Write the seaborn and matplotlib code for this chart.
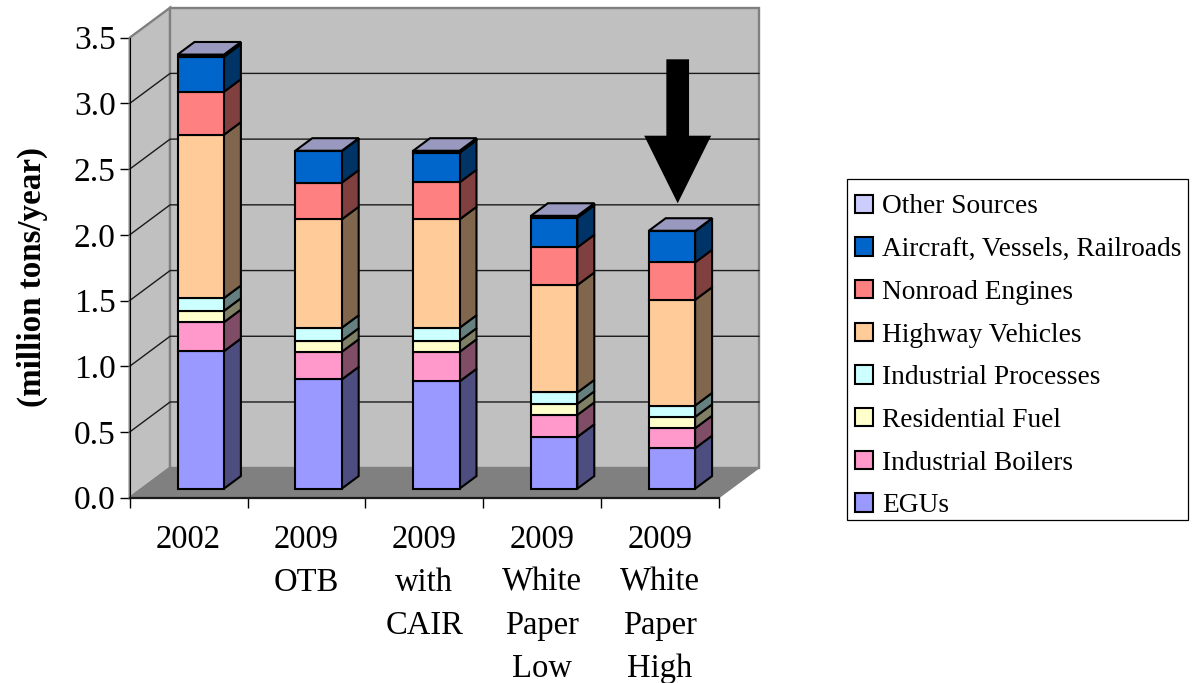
import matplotlib
matplotlib.use("Agg")
import matplotlib.pyplot as plt
import numpy as np
import seaborn as sns
from matplotlib.patches import FancyArrow, Polygon, Rectangle
from matplotlib.transforms import Affine2D, IdentityTransform

categories = ["2002", "2009\nOTB", "2009\nwith\nCAIR", "2009\nWhite\nPaper\nLow", "2009\nWhite\nPaper\nHigh"]
egus = [1.046, 0.831, 0.816, 0.394, 0.308]
industrial_boilers = [0.221, 0.210, 0.225, 0.167, 0.152]
residential_fuel = [0.086, 0.084, 0.084, 0.084, 0.086]
industrial_processes = [0.097, 0.099, 0.099, 0.087, 0.087]
highway_vehicles = [1.243, 0.825, 0.825, 0.817, 0.804]
nonroad_engines = [0.327, 0.279, 0.282, 0.287, 0.285]
aircraft_vessels = [0.266, 0.241, 0.225, 0.225, 0.238]
other_sources = [0.017, 0.002, 0.015, 0.015, 0.002]

series_names = ["EGUs", "Industrial Boilers", "Residential Fuel", "Industrial Processes",
                "Highway Vehicles", "Nonroad Engines", "Aircraft, Vessels, Railroads", "Other Sources"]
series_values = [egus, industrial_boilers, residential_fuel, industrial_processes,
                 highway_vehicles, nonroad_engines, aircraft_vessels, other_sources]
series_colors = ["#9999FF", "#FF99CC", "#FFFFCC", "#CCFFFF", "#FFCC99", "#FF8080", "#0066CC", "#CCCCFF"]
y_ticks = [0.0, 0.5, 1.0, 1.5, 2.0, 2.5, 3.0, 3.5]
y_label = "(million tons/year)"

sns.set_theme(style="white")
plt.rcParams["font.family"] = ["Liberation Serif", "DejaVu Serif"]

W, H = 1193, 683
fig = plt.figure(figsize=(W / 100, H / 100), dpi=100)
ax = fig.add_axes([129.7 / W, (H - 497.7) / H, 589.0 / W, 460.0 / H])
ax.patch.set_alpha(0)

# oblique projection: depth 0 = front plane, depth 1 = back wall
XMIN, XMAX, YMAX = -0.5, 4.5, 3.5
DX = 40.4 / 117.8
DY = 30.0 / 131.4
D0, D1 = 0.30, 0.72
BAR_W = 46.4 / 117.8
LW = 1.5


def proj(x, y, d):
    return (x + d * DX, y + d * DY)


def poly(pts, **kw):
    ax.add_patch(Polygon(pts, closed=True, clip_on=False, **kw))


wall = "#C0C0C0"
edge = "#808080"
poly([proj(XMIN, 0, 0), proj(XMIN, 0, 1), proj(XMIN, YMAX, 1), proj(XMIN, YMAX, 0)],
     facecolor=wall, edgecolor=edge, lw=1.7, zorder=1)
poly([proj(XMIN, 0, 1), proj(XMAX, 0, 1), proj(XMAX, YMAX, 1), proj(XMIN, YMAX, 1)],
     facecolor=wall, edgecolor=edge, lw=1.7, zorder=1)
poly([proj(XMIN, 0, 0), proj(XMAX, 0, 0), proj(XMAX, 0, 1), proj(XMIN, 0, 1)],
     facecolor="#808080", edgecolor=edge, lw=1.0, zorder=1.1)
for t in y_ticks[1:-1]:
    a, b, c = proj(XMIN, t, 0), proj(XMIN, t, 1), proj(XMAX, t, 1)
    ax.plot([a[0], b[0], c[0]], [a[1], b[1], c[1]], color="#1a1a1a", lw=1.0, zorder=1.2, clip_on=False)

bottom = np.zeros(len(categories))
offset = Affine2D().translate(D0 * DX, D0 * DY) + ax.transData
positions = np.arange(len(categories))
for name, vals, col in zip(series_names, series_values, series_colors):
    vals = np.asarray(vals)
    sns.barplot(x=categories, y=vals, bottom=bottom, color=col, saturation=1, width=BAR_W,
                edgecolor="black", linewidth=LW, errorbar=None, label=name, zorder=4, ax=ax)
    for p in ax.containers[-1].patches:
        p.set_transform(offset)
        p.set_clip_on(False)
    rgb = np.array(matplotlib.colors.to_rgb(col))
    for xc, b, v in zip(positions, bottom, vals):
        xr = xc + BAR_W / 2
        poly([proj(xr, b, D0), proj(xr, b, D1), proj(xr, b + v, D1), proj(xr, b + v, D0)],
             facecolor=rgb * 0.5, edgecolor="black", lw=LW, zorder=3)
    bottom = bottom + vals
rgb = np.array(matplotlib.colors.to_rgb(series_colors[-1]))
for xc, top in zip(positions, bottom):
    xl, xr = xc - BAR_W / 2, xc + BAR_W / 2
    poly([proj(xl, top, D0), proj(xr, top, D0), proj(xr, top, D1), proj(xl, top, D1)],
         facecolor=rgb * 0.75, edgecolor="black", lw=LW, zorder=3)

ax.set_xlim(XMIN, XMAX)
ax.set_ylim(0, YMAX)
ax.set_yticks(y_ticks)
ax.set_yticklabels([f"{t:.1f}" for t in y_ticks], fontsize=24)
ax.set_xticks(np.arange(XMIN, XMAX + 0.5))
ax.set_xticklabels([""] * 6)
ax.set_xticks(positions, minor=True)
ax.set_xticklabels(categories, minor=True, fontsize=23.5, linespacing=1.535, color="black")
ax.tick_params(axis="x", which="major", length=7, width=1, color="black", bottom=True)
ax.tick_params(axis="x", which="minor", length=0, pad=19, bottom=True)
ax.tick_params(axis="y", length=7, width=1, color="black", pad=3, labelcolor="black", left=True)
for s in ("top", "right"):
    ax.spines[s].set_visible(False)
ax.spines["left"].set_color("black")
ax.spines["left"].set_linewidth(0.8)
ax.spines["left"].set_zorder(2)
ax.spines["bottom"].set_color("#1a1a1a")
ax.spines["bottom"].set_linewidth(1.6)
ax.spines["bottom"].set_zorder(2)
fig.text(32 / W, 1 - 277 / H, y_label, rotation=90, ha="center", va="center",
         fontsize=23.8, fontweight="bold", color="black")

# black call-out arrow, in figure pixels
fig.add_artist(FancyArrow(677.7, H - 59.3, 0, -144, width=22.7, head_width=67, head_length=67.6,
                          length_includes_head=True, color="black", lw=0,
                          transform=IdentityTransform(), zorder=6))

# legend frame drawn separately, beneath the axes that hold the legend rows
fig.add_artist(Rectangle((846.5, H - 520), 341, 341, transform=IdentityTransform(),
                         facecolor="white", edgecolor="black", lw=0.9, zorder=-1))
handles, labels = ax.get_legend_handles_labels()
leg = ax.legend(handles[::-1], labels[::-1], loc="upper left",
                bbox_to_anchor=(846.5 / W, 1 - 186 / H), bbox_transform=fig.transFigure,
                borderaxespad=0, fontsize=19.7, frameon=False,
                handlelength=0.66, handleheight=0.66, handletextpad=0.33,
                labelspacing=0.646, borderpad=0.31, labelcolor="black")
leg.set_zorder(10)
fig.savefig("out.png", dpi=100)
